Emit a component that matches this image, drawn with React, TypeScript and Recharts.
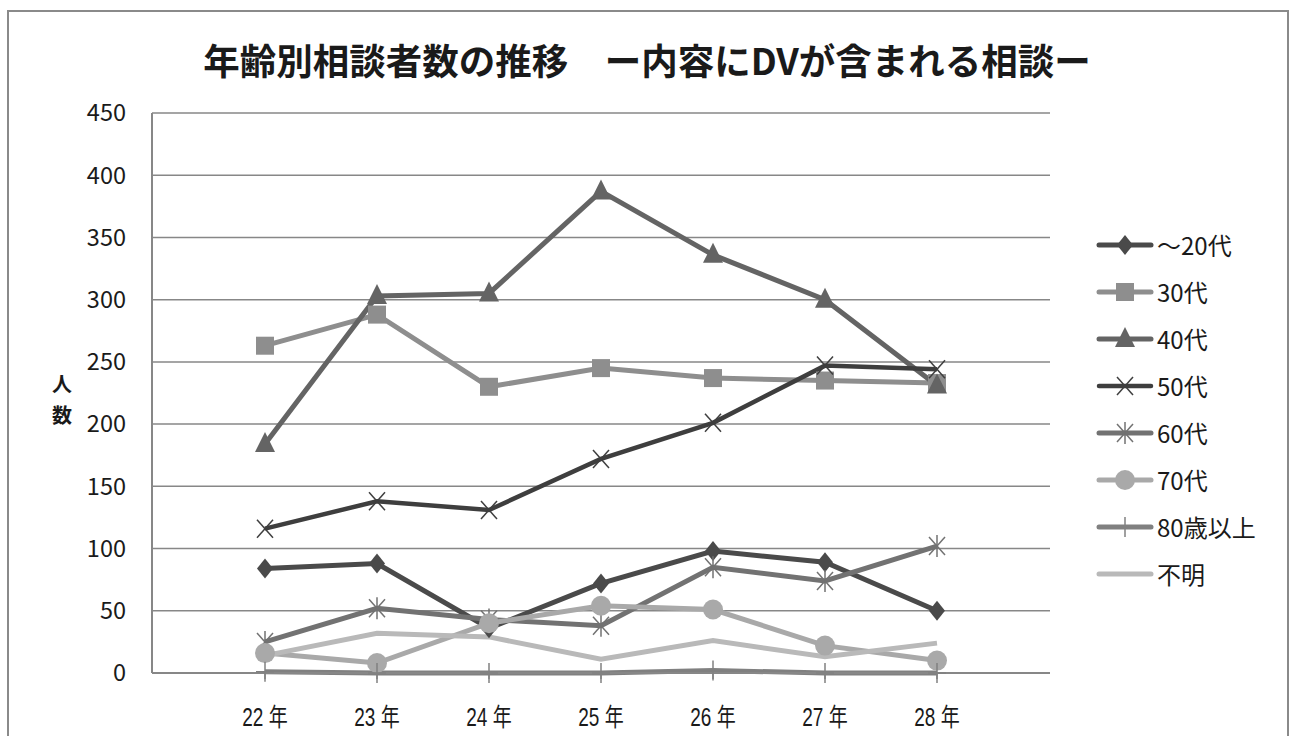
import React from "react";
import { LineChart, Line, XAxis, YAxis, CartesianGrid } from "recharts";

const years = ["22 年", "23 年", "24 年", "25 年", "26 年", "27 年", "28 年"];
const age20 = [84, 88, 36, 72, 98, 89, 50];
const age30 = [263, 288, 230, 245, 237, 235, 233];
const age40 = [184, 303, 305, 387, 336, 300, 231];
const age50 = [116, 138, 131, 172, 201, 247, 244];
const age60 = [25, 52, 43, 38, 85, 74, 102];
const age70 = [16, 8, 40, 54, 51, 22, 10];
const age80 = [1, 0, 0, 0, 2, 0, 0];
const unknown = [14, 32, 29, 11, 26, 13, 24];
const yTicks = [0, 50, 100, 150, 200, 250, 300, 350, 400, 450];

type Shape = "diamond" | "square" | "triangle" | "x" | "asterisk" | "circle" | "plus" | "none";

const series: { key: string; name: string; values: number[]; color: string; width: number; shape: Shape }[] = [
  { key: "a20", name: "～20代", values: age20, color: "#4a4a4a", width: 5, shape: "diamond" },
  { key: "a30", name: "30代", values: age30, color: "#8e8e8e", width: 5, shape: "square" },
  { key: "a40", name: "40代", values: age40, color: "#646464", width: 5, shape: "triangle" },
  { key: "a50", name: "50代", values: age50, color: "#3e3e3e", width: 4.5, shape: "x" },
  { key: "a60", name: "60代", values: age60, color: "#727272", width: 5, shape: "asterisk" },
  { key: "a70", name: "70代", values: age70, color: "#a9a9a9", width: 5, shape: "circle" },
  { key: "a80", name: "80歳以上", values: age80, color: "#808080", width: 5, shape: "plus" },
  { key: "unk", name: "不明", values: unknown, color: "#b9b9b9", width: 5, shape: "none" },
];

const data = years.map((y, i) => {
  const row: Record<string, string | number> = { year: y };
  series.forEach((s) => {
    row[s.key] = s.values[i];
  });
  return row;
});

function Marker({ shape, cx, cy, color }: { shape: Shape; cx: number; cy: number; color: string }) {
  switch (shape) {
    case "diamond":
      return <polygon points={`${cx},${cy - 10} ${cx + 8},${cy} ${cx},${cy + 10} ${cx - 8},${cy}`} fill={color} />;
    case "square":
      return <rect x={cx - 9} y={cy - 9} width={18} height={18} fill={color} />;
    case "triangle":
      return <polygon points={`${cx},${cy - 12} ${cx + 10},${cy + 8} ${cx - 10},${cy + 8}`} fill={color} />;
    case "x":
      return (
        <g stroke={color} strokeWidth={1.5}>
          <line x1={cx - 8} y1={cy - 9} x2={cx + 8} y2={cy + 9} />
          <line x1={cx - 8} y1={cy + 9} x2={cx + 8} y2={cy - 9} />
        </g>
      );
    case "asterisk":
      return (
        <g stroke={color} strokeWidth={1.5}>
          <line x1={cx - 8} y1={cy - 9} x2={cx + 8} y2={cy + 9} />
          <line x1={cx - 8} y1={cy + 9} x2={cx + 8} y2={cy - 9} />
          <line x1={cx} y1={cy - 11} x2={cx} y2={cy + 11} />
        </g>
      );
    case "circle":
      return <circle cx={cx} cy={cy} r={10} fill={color} />;
    case "plus":
      return (
        <g stroke={color} strokeWidth={1.5}>
          <line x1={cx} y1={cy - 10} x2={cx} y2={cy + 10} />
          <line x1={cx - 9} y1={cy} x2={cx + 9} y2={cy} />
        </g>
      );
    default:
      return null;
  }
}

const baseFont = "'Noto Sans CJK JP', 'Open Sans', sans-serif";

function YearTick(props: any) {
  const { x, y, payload } = props;
  return (
    <g transform={`translate(${x},${y})`}>
      <text
        transform="scale(0.76,1)"
        textAnchor="middle"
        dy="0.71em"
        fill="#1a1a1a"
        fontSize={25}
        fontFamily="'Liberation Sans', Arial, 'Noto Sans CJK JP', sans-serif"
      >
        {payload.value}
      </text>
    </g>
  );
}

export default function App() {
  return (
    <div style={{ position: "absolute", left: 0, top: 0, width: 1292, height: 736, background: "#fff", overflow: "hidden", fontFamily: baseFont }}>
      <div style={{ position: "absolute", left: 7, top: 10, width: 1278, height: 740, border: "2px solid #8a8a8a" }} />
      <div style={{ position: "absolute", left: 0, width: 1294, top: 36, textAlign: "center", fontSize: 36.5, fontWeight: 700, color: "#1a1a1a", lineHeight: "48px", whiteSpace: "pre" }}>
        年齢別相談者数の推移　ー内容にDVが含まれる相談ー
      </div>
      <div style={{ position: "absolute", left: 50, top: 368, width: 24, fontSize: 20, fontWeight: 700, lineHeight: "31px", textAlign: "center", color: "#1a1a1a" }}>
        人<br />数
      </div>
      <LineChart
        width={1292}
        height={736}
        data={data}
        margin={{ top: 113, right: 242, bottom: 13, left: 92 }}
        style={{ position: "absolute", left: 0, top: 0 }}
      >
        <CartesianGrid vertical={false} stroke="#878787" strokeWidth={1.5} />
        <XAxis
          dataKey="year"
          padding={{ left: 113, right: 113 }}
          height={50}
          axisLine={{ stroke: "#878787", strokeWidth: 2 }}
          tickLine={{ stroke: "#878787", strokeWidth: 1.5 }}
          tickSize={6}
          tickMargin={29}
          tick={<YearTick />}
          interval={0}
        />
        <YAxis
          domain={[0, 450]}
          ticks={yTicks}
          width={60}
          axisLine={{ stroke: "#878787", strokeWidth: 2 }}
          tickLine={false}
          tickSize={6}
          tickMargin={20}
          tick={{ fill: "#1a1a1a", fontSize: 23.5, fontFamily: baseFont }}
          interval={0}
        />
        {series.map((s) => (
          <Line
            key={s.key}
            dataKey={s.key}
            name={s.name}
            type="linear"
            stroke={s.color}
            strokeWidth={s.width}
            isAnimationActive={false}
            activeDot={false}
            dot={(p: any) => (
              <Marker key={`${s.key}-${p.index}`} shape={s.shape} cx={p.cx} cy={p.cy} color={s.color} />
            )}
          />
        ))}
      </LineChart>
      {series.map((s, i) => (
        <div key={s.key} style={{ position: "absolute", left: 1094, top: 245 + 47 * i - 15, height: 30, display: "flex", alignItems: "center" }}>
          <svg width={62} height={30}>
            <line x1={5} y1={15} x2={57} y2={15} stroke={s.color} strokeWidth={s.width} strokeLinecap="round" />
            <Marker shape={s.shape} cx={31} cy={15} color={s.color} />
          </svg>
          <span style={{ fontSize: 24, color: "#1a1a1a", marginLeft: 1, lineHeight: "30px", whiteSpace: "nowrap" }}>{s.name}</span>
        </div>
      ))}
    </div>
  );
}
